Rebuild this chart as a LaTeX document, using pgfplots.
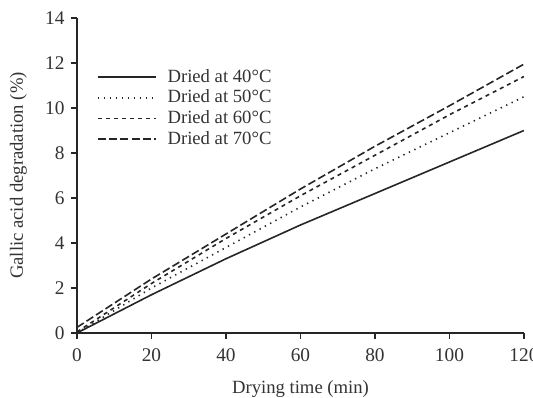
\documentclass[border=0pt]{standalone}
\usepackage{pgfplots}
\pgfplotsset{compat=1.18}
\usepackage{fontspec}
\setmainfont{Liberation Serif}
\begin{document}
\fontsize{14}{16}\selectfont
\begin{tikzpicture}
\begin{axis}[
  name=ax,
  width=335.25pt, height=236.25pt,
  scale only axis,
  axis lines*=left,
  axis line style={line width=1.1pt, black!85, -},
  xmin=0, xmax=120, ymin=0, ymax=14,
  xtick={0,20,...,120}, ytick={0,2,...,14},
  tick align=outside,
  major tick length=4.5pt,
  tick style={line width=1.1pt, black!85},
  /pgf/number format/assume math mode=true,
  ticklabel style={font=\fontsize{14.5}{16}\selectfont, text=black!80},
  xticklabel style={yshift=-2pt},
  xlabel={Drying time (min)},
  ylabel={Gallic acid degradation (\%)},
  xlabel style={at={(axis description cs:0.5,0)}, anchor=center, yshift=-42pt, text=black!80},
  ylabel style={at={(axis description cs:0,0.5)}, anchor=center, yshift=44pt, text=black!80},
  legend style={at={(axis description cs:0.035,0.855)}, anchor=north west, draw=none, fill=none,
    font=\fontsize{14}{16}\selectfont, text=black!80, row sep=-0.3pt,
    nodes={inner xsep=4pt}},
  legend cell align=left,
  legend image code/.code={\draw[#1] (0cm,0cm) -- (1.53cm,0cm); \path (1.68cm,0cm);},
  every axis plot/.append style={line width=1.2pt, black!85},
]
\addplot[solid] coordinates {(0,0) (20,1.7) (40,3.3) (60,4.8) (80,6.2) (100,7.6) (120,9.0)};
\addlegendentry{Dried at 40°C}
\addplot[dash pattern=on 1pt off 3.5pt] coordinates {(0,0) (20,2.0) (40,3.8) (60,5.6) (80,7.3) (100,8.9) (120,10.5)};
\addlegendentry{Dried at 50°C}
\addplot[dash pattern=on 3pt off 3pt] coordinates {(0,0.05) (20,2.2) (40,4.2) (60,6.1) (80,7.9) (100,9.7) (120,11.4)};
\addlegendentry{Dried at 60°C}
\addplot[dash pattern=on 6pt off 2.5pt] coordinates {(0,0.25) (20,2.4) (40,4.4) (60,6.4) (80,8.3) (100,10.1) (120,11.95)};
\addlegendentry{Dried at 70°C}
\end{axis}
\pgfresetboundingbox
\path[use as bounding box] ([xshift=-57.75pt,yshift=-48.75pt]ax.south west) rectangle ([xshift=6.75pt,yshift=13.5pt]ax.north east);
\end{tikzpicture}
\end{document}
